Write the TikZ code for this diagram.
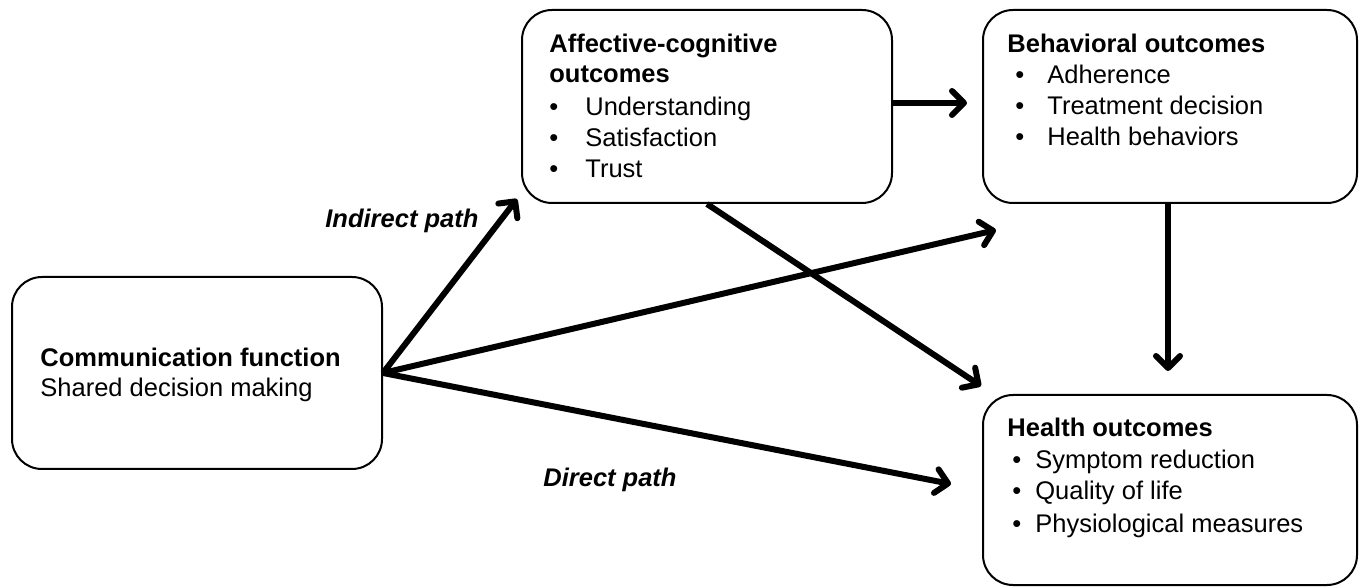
\documentclass[tikz,border=0pt]{standalone}
\usepackage{fontspec}
\setmainfont{Liberation Sans}
\usetikzlibrary{arrows.meta}
\tikzset{
  box/.style={draw=black, line width=1pt, rounded corners=15pt, inner sep=0pt},
  txt/.style={anchor=base west, inner sep=0pt, font=\fontsize{12.75}{15.5}\selectfont},
  btxt/.style={txt, font=\fontsize{12.75}{15.5}\selectfont\bfseries},
  itxt/.style={txt, font=\fontsize{12.75}{15.5}\selectfont\bfseries\itshape},
  arr/.style={line width=3pt, -{Straight Barb[length=6pt,width=12pt,round]}}
}
\newcommand{\bulA}[1]{\makebox[18pt][l]{\textbullet}#1}
\newcommand{\bulB}[1]{\hspace*{4pt}\makebox[16pt][l]{\textbullet}#1}
\newcommand{\bulC}[1]{\hspace*{2.5pt}\makebox[11.5pt][l]{\textbullet}#1}
\begin{document}
\begin{tikzpicture}[x=0.5pt,y=-0.5pt]
\useasboundingbox (0,0) rectangle (1360,587);
% boxes
\node[box, minimum width=185pt, minimum height=96pt] (comm) at (197,373) {};
\node[box, minimum width=185pt, minimum height=96.5pt] (aff) at (707,106.5) {};
\node[box, minimum width=187pt, minimum height=96.5pt] (beh) at (1170,106.5) {};
\node[box, minimum width=187pt, minimum height=95pt] (hlth) at (1170,490) {};
% texts
\node[btxt] (comm1) at (40,367) {Communication function};
\node[txt] (comm2) at (40,397) {Shared decision making};
\node[btxt] (aff1) at (549,53) {Affective-cognitive};
\node[btxt] (aff2) at (549,83) {outcomes};
\node[txt] (aff3) at (549,116) {\bulA{Understanding}};
\node[txt] (aff4) at (549,147) {\bulA{Satisfaction}};
\node[txt] (aff5) at (549,178) {\bulA{Trust}};
\node[btxt] (beh1) at (1007,53) {Behavioral outcomes};
\node[txt] (beh2) at (1007,84) {\bulB{Adherence}};
\node[txt] (beh3) at (1007,115) {\bulB{Treatment decision}};
\node[txt] (beh4) at (1007,146) {\bulB{Health behaviors}};
\node[btxt] (h1) at (1007,437) {Health outcomes};
\node[txt] (h2) at (1007,468) {\bulC{Symptom reduction}};
\node[txt] (h3) at (1007,500) {\bulC{Quality of life}};
\node[txt] (h4) at (1007,532) {\bulC{Physiological measures}};
\node[itxt] (ind) at (325,228) {Indirect path};
\node[itxt] (dir) at (543,487) {Direct path};
% arrows
\draw[arr] (comm.east) -- ([shift={(-4,-5)}]aff.south west);
\draw[arr] (comm.east) -- ([shift={(14,26)}]beh.south west);
\draw[arr] (comm.east) -- ([shift={(-31,-6)}]hlth.west);
\draw[arr] (aff.south) -- ([shift={(-1,-8)}]hlth.north west);
\draw[arr] ([shift={(0,-3.5)}]aff.east) -- ([shift={(-15,-3.5)}]beh.west);
\draw[arr] ([shift={(-2,0)}]beh.south) -- ([shift={(-2,-23)}]hlth.north);
\end{tikzpicture}
\end{document}
